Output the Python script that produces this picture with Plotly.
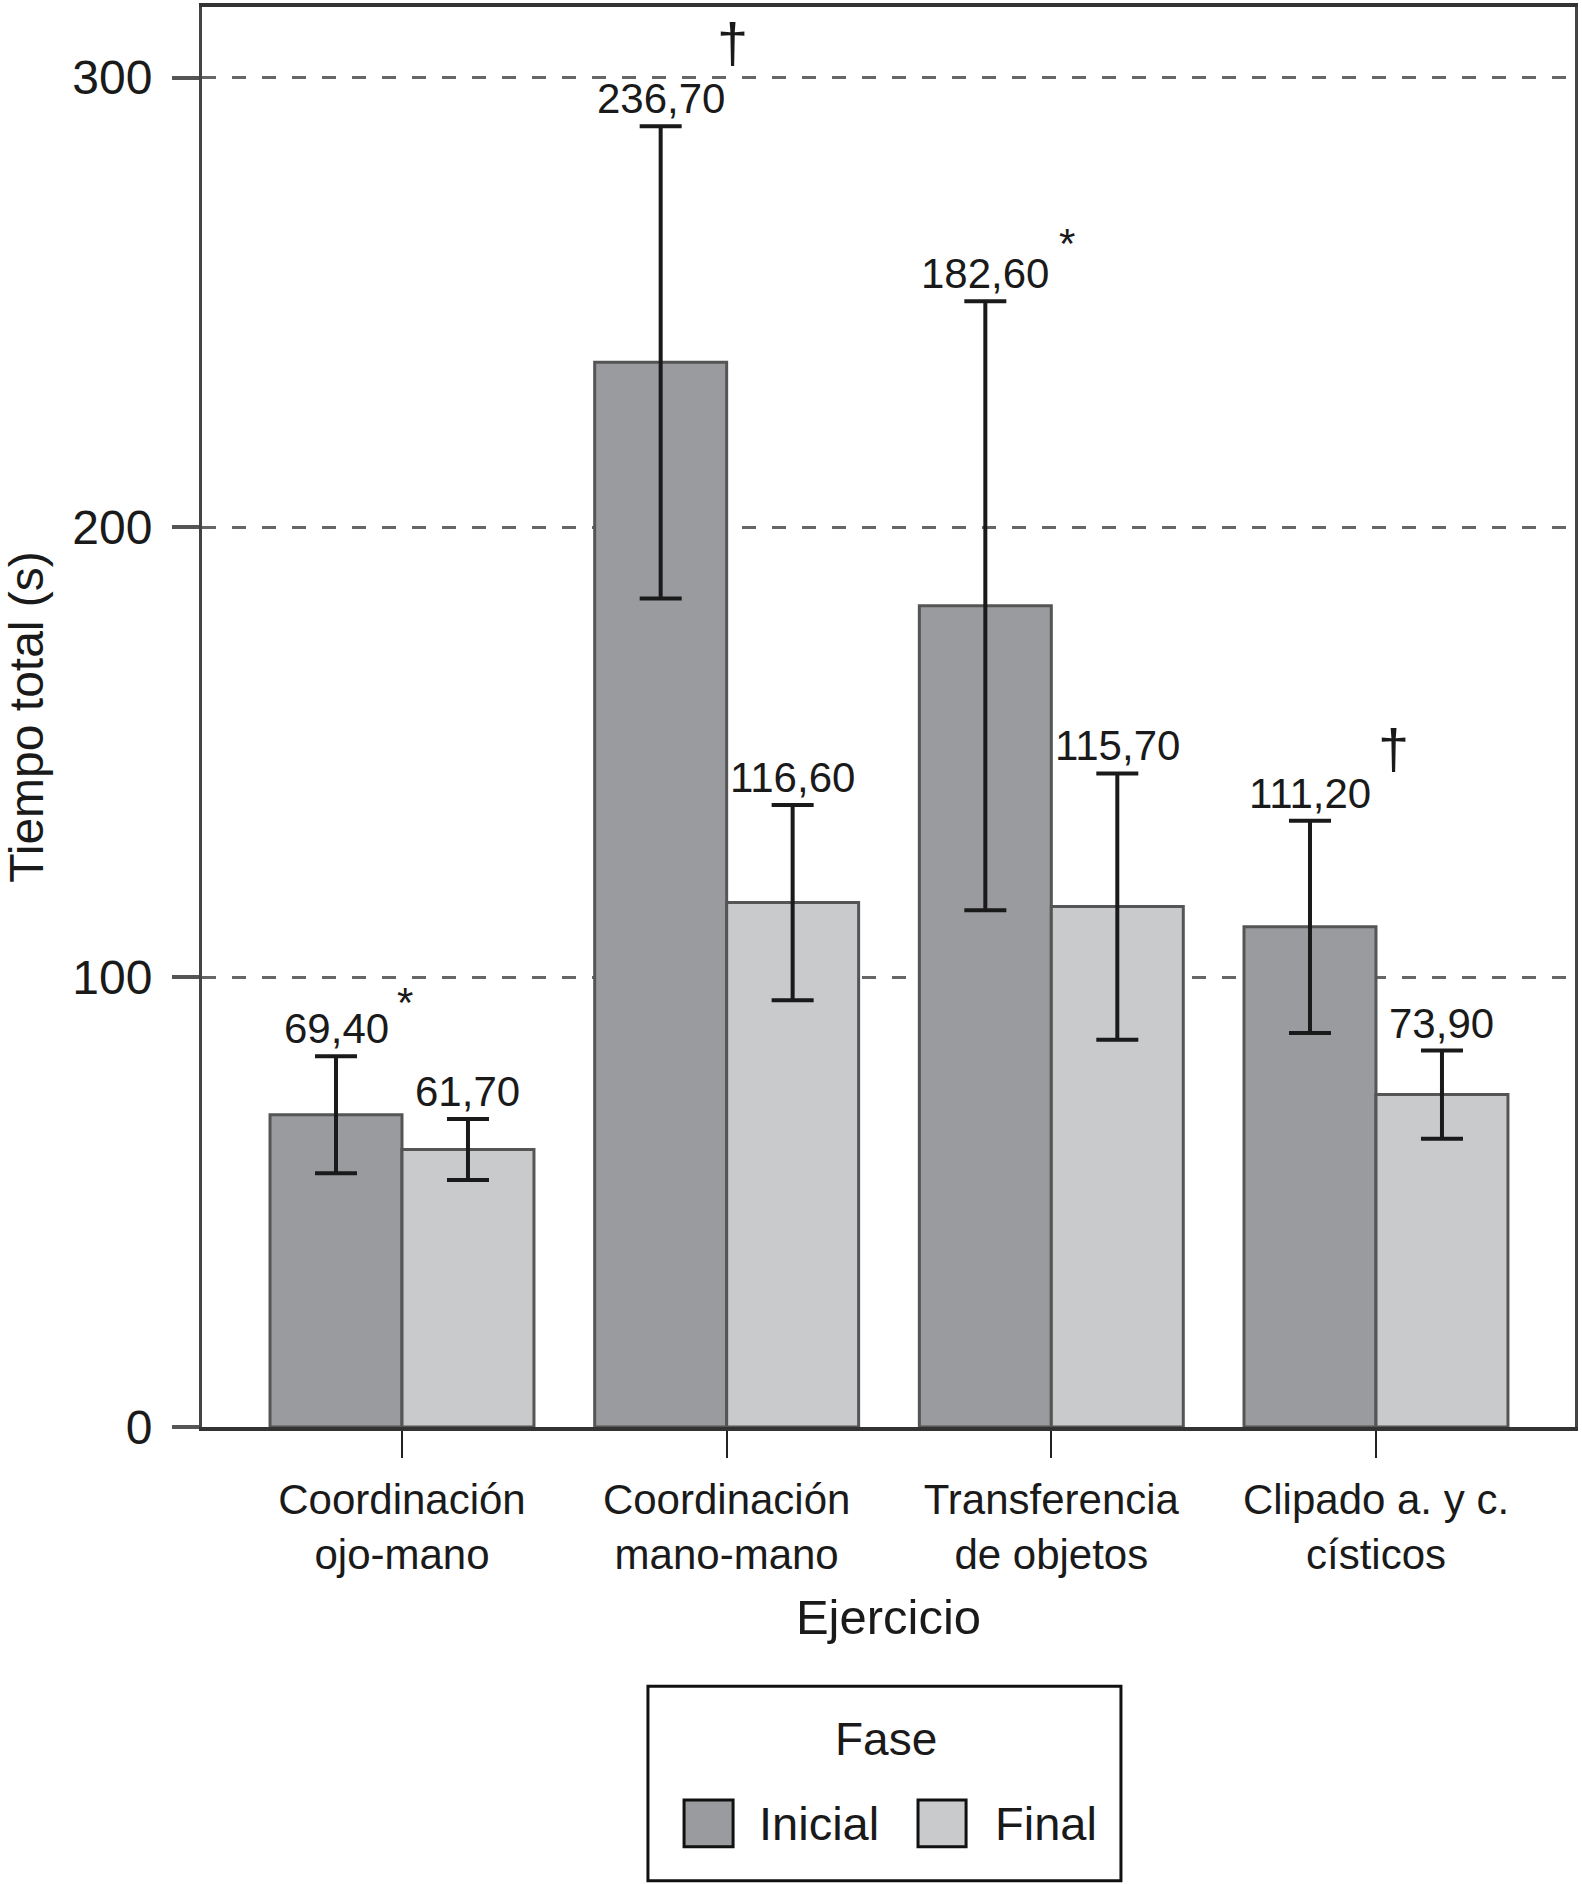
import plotly.graph_objects as go

# datos del gráfico
ejercicios = ["Coordinación<br>ojo-mano", "Coordinación<br>mano-mano",
              "Transferencia<br>de objetos", "Clipado a. y c.<br>císticos"]
inicial = [69.4, 236.7, 182.6, 111.2]
final = [61.7, 116.6, 115.7, 73.9]
err_inicial = [13.0, 52.5, 67.7, 23.6]
err_final = [6.8, 21.7, 29.6, 9.8]
signos = ["*", "†", "*", "†"]  # significación sobre la fase inicial

FONT = "Liberation Sans, Arial, sans-serif"
TXT = "#1a1a1a"
bargap = 0.187
half = (1 - bargap) / 4  # distancia del centro del grupo al centro de cada barra
xs = list(range(len(ejercicios)))

fig = go.Figure()
fig.add_trace(go.Bar(x=xs, y=inicial, name="Inicial", marker_color="#9a9b9f",
                     marker_line=dict(color="#555555", width=3),
                     error_y=dict(type="data", array=err_inicial, color="#1a1a1a",
                                  thickness=4, width=21),
                     showlegend=False))
fig.add_trace(go.Bar(x=xs, y=final, name="Final", marker_color="#c9cacc",
                     marker_line=dict(color="#555555", width=3),
                     error_y=dict(type="data", array=err_final, color="#1a1a1a",
                                  thickness=4, width=21),
                     showlegend=False))

fmt = lambda v: f"{v:.2f}".replace(".", ",")

# etiquetas de valor encima de las barras de error
for i in xs:
    fig.add_annotation(x=i - half, y=inicial[i] + err_inicial[i], text=fmt(inicial[i]),
                       showarrow=False, yanchor="bottom", yshift=2,
                       font=dict(size=42, color=TXT))
    fig.add_annotation(x=i + half, y=final[i] + err_final[i], text=fmt(final[i]),
                       showarrow=False, yanchor="bottom", yshift=2,
                       font=dict(size=42, color=TXT))

# asteriscos y cruces
sx = [69, 72, 82, 84]
sy = [54, 84, 58, 72]
for i in xs:
    big = signos[i] == "†"
    fig.add_annotation(x=i - half, y=inicial[i] + err_inicial[i], text=signos[i],
                       showarrow=False, yanchor="middle", xshift=sx[i], yshift=sy[i],
                       font=dict(size=56 if big else 42, color=TXT))

# leyenda dibujada a mano (cuadros grandes)
fig.add_shape(type="rect", xref="paper", yref="paper", x0=0.3248, x1=0.6693,
              y0=-0.1826, y1=-0.3195, line=dict(color="#111111", width=3))
fig.add_annotation(xref="paper", yref="paper", x=0.4982, y=-0.2198, text="Fase",
                   showarrow=False, xanchor="center", yanchor="middle",
                   font=dict(size=46, color=TXT))
fig.add_shape(type="rect", xref="paper", yref="paper", x0=0.3511, x1=0.3868,
              y0=-0.2626, y1=-0.2956, fillcolor="#9a9b9f",
              line=dict(color="#111111", width=3))
fig.add_annotation(xref="paper", yref="paper", x=0.4042, y=-0.2795, text="Inicial",
                   showarrow=False, xanchor="left", yanchor="middle",
                   font=dict(size=47, color=TXT))
fig.add_shape(type="rect", xref="paper", yref="paper", x0=0.5215, x1=0.5565,
              y0=-0.2626, y1=-0.2956, fillcolor="#c9cacc",
              line=dict(color="#111111", width=3))
fig.add_annotation(xref="paper", yref="paper", x=0.5761, y=-0.2795, text="Final",
                   showarrow=False, xanchor="left", yanchor="middle",
                   font=dict(size=47, color=TXT))

fig.update_layout(
    width=1582, height=1884,
    margin=dict(l=202, r=7, t=3, b=457),
    barmode="group", bargap=bargap, bargroupgap=0,
    plot_bgcolor="white", paper_bgcolor="white",
    font=dict(family=FONT, color=TXT),
)
fig.update_xaxes(
    range=[-0.616, 3.613], tickvals=xs, ticktext=ejercicios,
    tickfont=dict(size=42, color=TXT), ticklabelstandoff=6,
    ticks="outside", ticklen=27, tickwidth=2, tickcolor="#222222",
    showline=True, linecolor="#333333", linewidth=4, mirror=True,
    showgrid=False, zeroline=False,
    title=dict(text="Ejercicio", font=dict(size=49, color=TXT), standoff=24),
)
fig.update_yaxes(
    range=[0, 315.7], tickvals=[0, 100, 200, 300],
    tickfont=dict(size=48, color=TXT), ticklabelstandoff=10,
    ticks="outside", ticklen=27, tickwidth=4, tickcolor="#555555",
    showline=True, linecolor="#444444", linewidth=3, mirror=True,
    showgrid=True, gridcolor="#666666", gridwidth=3, griddash="14px,16px",
    zeroline=False,
    title=dict(text="Tiempo total (s)", font=dict(size=48, color=TXT), standoff=18),
)

fig.write_html("out.html", config={"displayModeBar": False},
               post_script="document.body.style.margin='0px';")
